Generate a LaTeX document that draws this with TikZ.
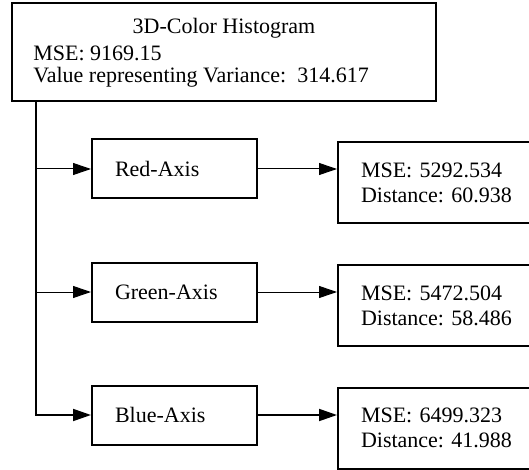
\documentclass[tikz,border=0pt]{standalone}
\usepackage{fontspec}
\setmainfont{Liberation Serif}
\usetikzlibrary{arrows.meta,positioning}
\frenchspacing

\begin{document}
\begin{tikzpicture}[
    x=0.5pt, y=-0.5pt,
    every node/.style={font=\fontsize{11pt}{12.5pt}\selectfont},
    histbox/.style={draw, line width=1pt, inner sep=0pt},
    axisbox/.style={draw, line width=1pt, minimum height=29.5pt, text width=59.5pt, inner xsep=11.5pt, inner ysep=0pt, align=left},
    resbox/.style={draw, line width=1pt, anchor=west, minimum height=40.5pt, text width=90pt, inner xsep=11.5pt, inner ysep=0pt, align=left},
    arr/.style={-{Triangle[length=9pt, width=6pt]}, line width=0.5pt},
    txt/.style={inner sep=0pt}
]
\useasboundingbox (0,0) rectangle (529,470);

\node[histbox, minimum width=212pt, minimum height=49pt] (hist) at (224,52) {};
\node[txt] (histtitle) at (224,28) {3D-Color Histogram};
\node[txt, anchor=west] (histmse) at (33,53) {MSE: 9169.15};
\node[txt, anchor=west] (histvar) at (33,77) {Value representing Variance:\ \ 314.617};

\node[axisbox] (red) at (174.5,169) {Red-Axis};
\node[axisbox] (green) at (174.5,292) {Green-Axis};
\node[axisbox] (blue) at (174.5,415) {Blue-Axis};

\node[resbox] (redres) at (337,182.5) {MSE: 5292.534\\Distance: 60.938};
\node[resbox] (greenres) at (337,305.5) {MSE: 5472.504\\Distance: 58.486};
\node[resbox] (blueres) at (337,428) {MSE: 6499.323\\Distance: 41.988};

\coordinate (trunk) at ([xshift=12.5pt]hist.south west);
\draw[arr, line width=0.9pt] (trunk) |- (blue.west);
\draw[arr] (trunk |- red.west) -- (red.west);
\draw[arr] (trunk |- green.west) -- (green.west);

\draw[arr] (red.east) -- (red.east -| redres.west);
\draw[arr] (green.east) -- (green.east -| greenres.west);
\draw[arr, line width=0.9pt] (blue.east) -- (blue.east -| blueres.west);
\end{tikzpicture}
\end{document}
